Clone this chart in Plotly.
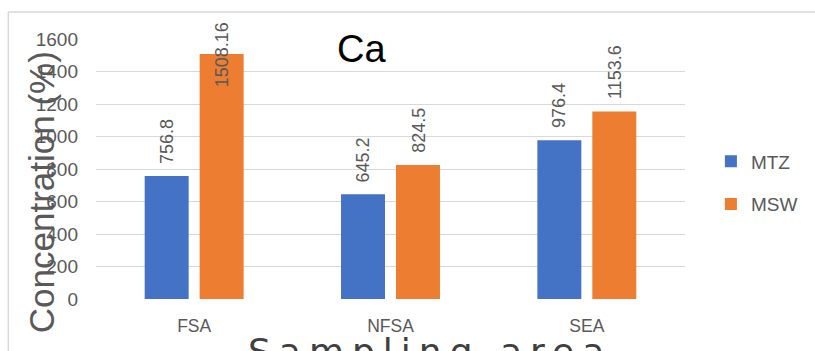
import plotly.graph_objects as go

# Calcium concentration by sampling area
areas = ["FSA", "NFSA", "SEA"]
series_names = ["MTZ", "MSW"]
mtz_values = [756.8, 645.2, 976.4]
msw_values = [1508.16, 824.5, 1153.6]
y_ticks = [0, 200, 400, 600, 800, 1000, 1200, 1400, 1600]

colors = {"MTZ": "#4472C4", "MSW": "#ED7D31"}
grey_text = "#595959"
font_main = "Liberation Sans"

W, H = 815, 351
ML, MR, MT, MB = 96, 128, 39, 52
PW, PH = W - ML - MR, H - MT - MB
Y_MAX = 1600


def px_x(px):
    return (px - ML) / PW


def px_y(py):
    return (H - MB - py) / PH


fig = go.Figure()
for name, vals in zip(series_names, [mtz_values, msw_values]):
    fig.add_trace(go.Bar(
        x=areas, y=vals, name=name, legendgroup=name,
        marker=dict(color=colors[name], line=dict(width=0)),
    ))

# rotated value labels above each bar; labels that would run past the
# top of the plot are pushed down to hang from the top edge instead
offset = 0.141
annotations = []
for sign, vals in zip([-1, 1], [mtz_values, msw_values]):
    for i, v in enumerate(vals):
        label = dict(
            x=i + sign * offset, xref="x", yref="y",
            text=f"{v:g}", textangle=-90, showarrow=False,
            font=dict(family=font_main, size=18, color=grey_text),
            xanchor="center",
        )
        if v > 1400:
            label.update(y=Y_MAX, yanchor="top", yshift=19)
        else:
            label.update(y=v, yanchor="bottom", yshift=10)
        annotations.append(label)

# chart title
annotations.append(dict(
    x=px_x(362), y=px_y(49), xref="paper", yref="paper",
    text="Ca", showarrow=False, xanchor="center", yanchor="middle",
    font=dict(family=font_main, size=38, color="#000000"),
))
# y axis title
annotations.append(dict(
    x=px_x(41), y=px_y(192), xref="paper", yref="paper",
    text="Concentration (%)", textangle=-90, showarrow=False,
    xanchor="center", yanchor="middle",
    font=dict(family=font_main, size=35, color=grey_text),
))
# x axis title
annotations.append(dict(
    x=px_x(431), y=px_y(329), xref="paper", yref="paper",
    text='<span style="letter-spacing:8px">Sampling area</span>',
    showarrow=False, xanchor="center", yanchor="top",
    font=dict(family="DejaVu Sans", size=36, color="#404040"),
))

frame = "#d9d9d9"
shapes = [
    dict(type="line", xref="paper", yref="paper",
         x0=px_x(8), x1=px_x(W + 5), y0=px_y(12), y1=px_y(12),
         line=dict(color=frame, width=1.5)),
    dict(type="line", xref="paper", yref="paper",
         x0=px_x(8), x1=px_x(8), y0=px_y(12), y1=px_y(H + 5),
         line=dict(color=frame, width=1.5)),
]

fig.update_layout(
    width=W, height=H,
    margin=dict(l=ML, r=MR, t=MT, b=MB, pad=0),
    paper_bgcolor="white", plot_bgcolor="white",
    barmode="group", bargap=0.44, bargroupgap=0.2,
    annotations=annotations, shapes=shapes,
    showlegend=True,
    legend=dict(
        x=px_x(713), y=px_y(183), xanchor="left", yanchor="middle",
        font=dict(family=font_main, size=19, color=grey_text),
        tracegroupgap=15, bgcolor="rgba(0,0,0,0)",
    ),
    xaxis=dict(
        showgrid=False, showline=False, zeroline=False,
        tickfont=dict(family=font_main, size=17.5, color=grey_text),
        ticks="", ticklabelstandoff=14,
    ),
    yaxis=dict(
        range=[0, Y_MAX], tickvals=y_ticks,
        showgrid=True, gridcolor="#d9d9d9", gridwidth=1,
        zeroline=False, showline=False, ticks="",
        tickfont=dict(family=font_main, size=19, color=grey_text),
        ticklabelstandoff=17,
    ),
)

fig.write_html("out.html")
